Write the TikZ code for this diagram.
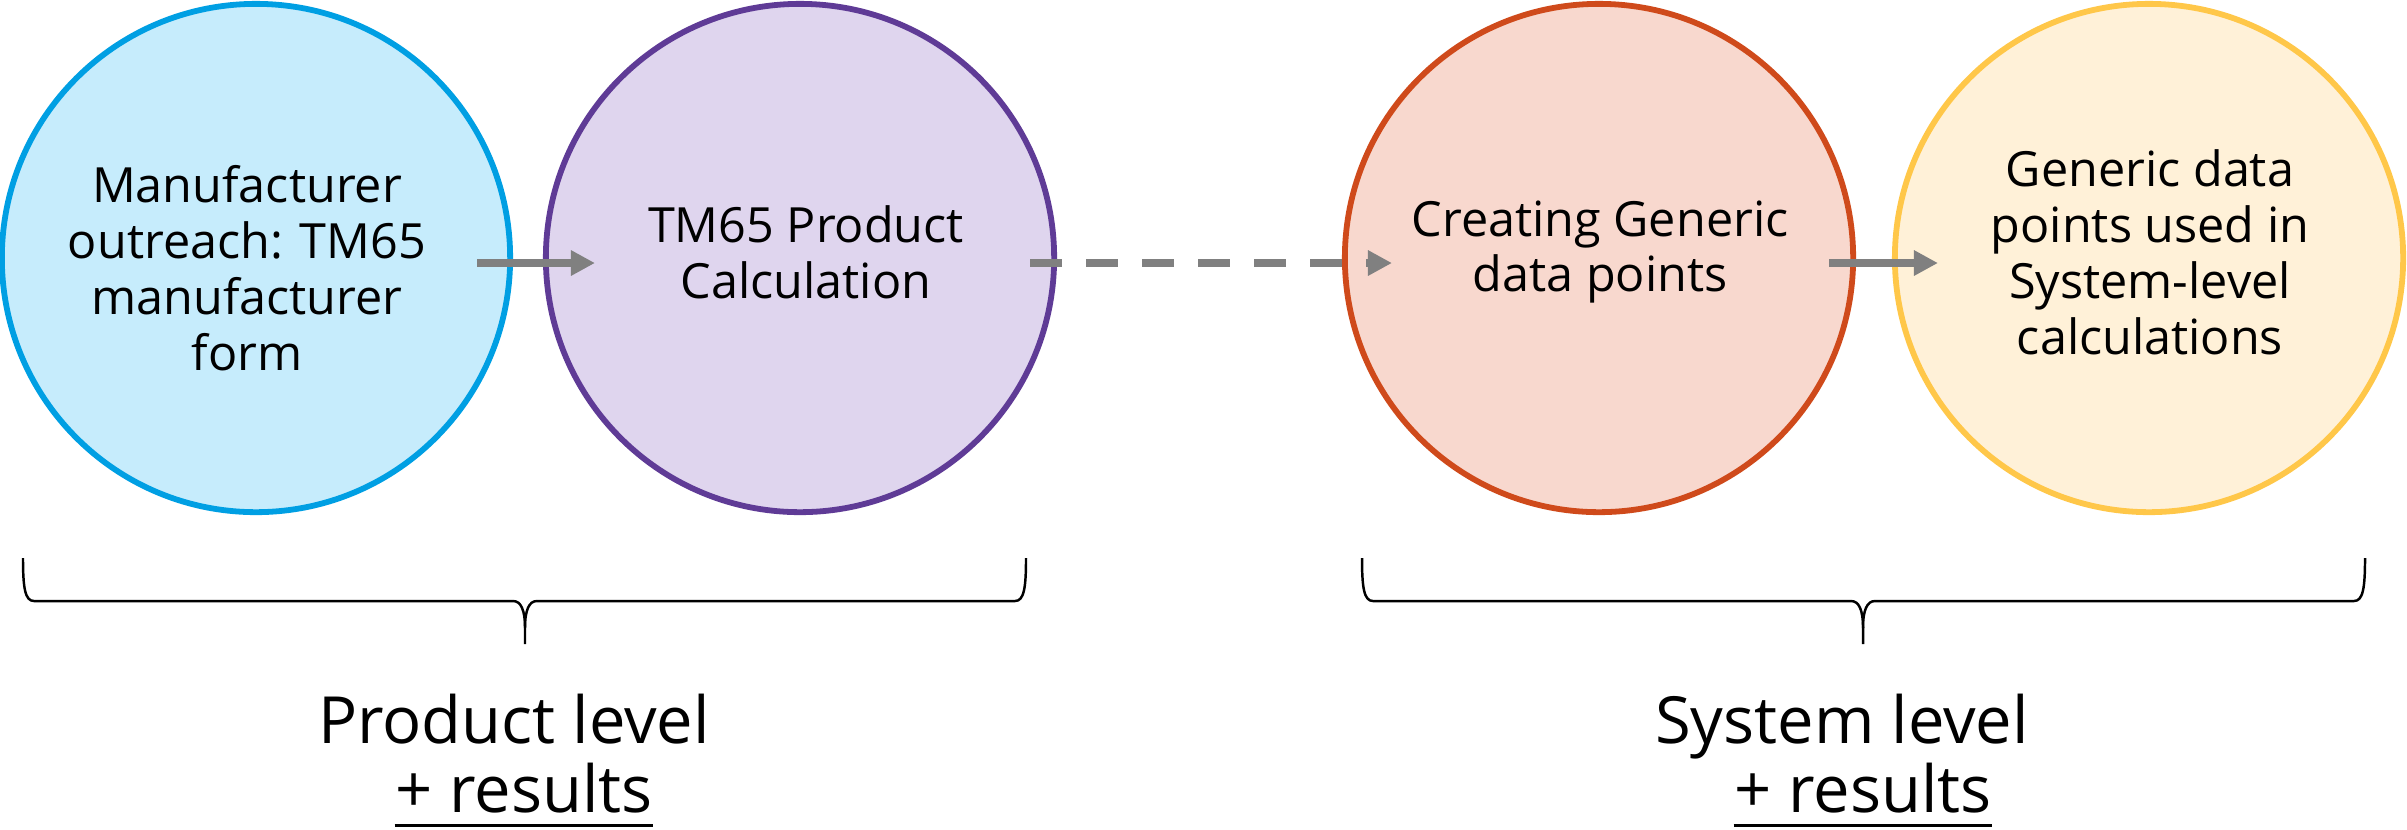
\documentclass[tikz,border=0pt]{standalone}
\usepackage{fontspec}
\setmainfont{Open Sans}
\usetikzlibrary{arrows.meta,calc}
\definecolor{cOneD}{HTML}{009FE3}
\definecolor{cOneF}{HTML}{C6ECFC}
\definecolor{cTwoD}{HTML}{5F3B96}
\definecolor{cTwoF}{HTML}{DFD5EE}
\definecolor{cThreeD}{HTML}{CF4A1B}
\definecolor{cThreeF}{HTML}{F8D8CE}
\definecolor{cFourD}{HTML}{FFC749}
\definecolor{cFourF}{HTML}{FFF1D8}
\definecolor{arrgray}{HTML}{808080}
\begin{document}
\begin{tikzpicture}[x=0.01cm,y=-0.01cm,
  bub/.style={circle, minimum size=5.08cm, inner sep=0pt, line width=0.058cm},
  btext/.style={align=center, inner sep=0pt, font=\fontsize{13.8}{15.9}\selectfont},
  arr/.style={draw=arrgray, line width=0.075cm, -{Triangle[length=0.24cm,width=0.24cm]}},
  dasharr/.style={arr, dash pattern=on 0.32cm off 0.24cm},
  bracel/.style={line width=0.7pt, black},
  lvl/.style={inner sep=0pt, anchor=base, font=\fontsize{18.5}{22}\selectfont}]
\useasboundingbox (0,0) rectangle (2407,829);
% circles
\node[bub, draw=cOneD, fill=cOneF] (n1) at (256,258) {};
\node[bub, draw=cTwoD, fill=cTwoF] (n2) at (800,258) {};
\node[bub, draw=cThreeD, fill=cThreeF] (n3) at (1599,258) {};
\node[bub, draw=cFourD, fill=cFourF] (n4) at (2149,258) {};
% texts
\node[btext] (t1) at (247,268) {Manufacturer\\outreach: TM65\\manufacturer\\form};
\node[btext] (t2) at (806,252) {TM65 Product\\Calculation};
\node[btext] (t3) at (1600,252) {Creating Generic\\data points};
\node[btext] (t4) at (2150,252) {Generic data\\points used in\\System-level\\calculations};
% arrows
\draw[arr] ($(n1.east)+(-36,5)$) -- ($(n2.west)+(52,5)$);
\draw[dasharr] ($(n2.east)+(-27,5)$) -- ($(n3.west)+(50,5)$);
\draw[arr] ($(n3.east)+(-27,5)$) -- ($(n4.west)+(46,5)$);
% braces
\coordinate (bl1) at (23,558);
\coordinate (bm1) at (525,644);
\coordinate (br1) at (1026,558);
\coordinate (bl2) at (1362,558);
\coordinate (bm2) at (1863,644);
\coordinate (br2) at (2365,558);
\draw[bracel] (bl1) .. controls (23,588) and (25,601) .. (34,601) -- (513,601)
  .. controls (521,601) and (525,610) .. (525,628) -- (bm1);
\draw[bracel] (br1) .. controls (1026,588) and (1024,601) .. (1015,601) -- (537,601)
  .. controls (529,601) and (525,610) .. (525,628);
\draw[bracel] (bl2) .. controls (1362,588) and (1364,601) .. (1373,601) -- (1851,601)
  .. controls (1859,601) and (1863,610) .. (1863,628) -- (bm2);
\draw[bracel] (br2) .. controls (2365,588) and (2363,601) .. (2354,601) -- (1875,601)
  .. controls (1867,601) and (1863,610) .. (1863,628);
% level labels
\node[lvl] (pl) at (514,743) {Product level};
\node[lvl] (pr) at (524,812) {+ results};
\draw[line width=0.03cm] ([yshift=-0.13cm]pr.base west) -- ([yshift=-0.13cm]pr.base east);
\node[lvl] (sl) at (1842,743) {System level};
\node[lvl] (sr) at (1863,812) {+ results};
\draw[line width=0.03cm] ([yshift=-0.13cm]sr.base west) -- ([yshift=-0.13cm]sr.base east);
\end{tikzpicture}
\end{document}
